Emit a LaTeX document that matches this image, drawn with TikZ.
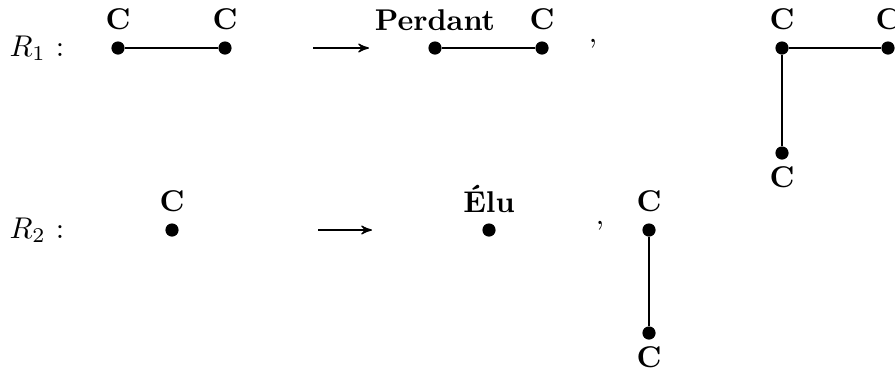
\documentclass[tikz,border=0pt]{standalone}
\usepackage{amsmath}
\usetikzlibrary{arrows}
\usetikzlibrary{calc,positioning}

\begin{document}
\begin{tikzpicture}[x=0.3333pt, y=-0.3333pt, >=stealth',
  sommet/.style={circle, fill, inner sep=0pt, minimum size=4.4pt},
  fleche/.style={->, thin},
  arete/.style={semithick},
  dessous/.style={label={[label distance=-1.5pt]below:\textbf{#1}}}]
  \useasboundingbox (0,0) rectangle (895,374);

% regle R1
\node (r1) at (37,48) {$R_1$ :};
\node[sommet, label={above:\textbf{C}}] (a1) at (118,48) {};
\node[sommet, label={above:\textbf{C}}] (a2) at (225,48) {};
\draw[arete] (a1) -- (a2);

\coordinate (f1a) at (313,48);
\coordinate (f1b) at (369,48);
\draw[fleche] (f1a) -- (f1b);

\node[sommet, label={above:\textbf{Perdant}}] (b1) at (435,48) {};
\node[sommet, label={above:\textbf{C}}] (b2) at (542,48) {};
\draw[arete] (b1) -- (b2);
\node[anchor=base] (v1) at (593,42) {,};

\node[sommet, label={above:\textbf{C}}] (c1) at (782,48) {};
\node[sommet, label={above:\textbf{C}}] (c2) at (888,48) {};
\node[sommet, dessous=C] (c3) at (782,153) {};
\draw[arete] (c2) -- (c1) -- (c3);

% regle R2
\node (r2) at (37,230) {$R_2$ :};
\node[sommet, label={above:\textbf{C}}] (d1) at (172,230) {};

\coordinate (f2a) at (318,230);
\coordinate (f2b) at (372,230);
\draw[fleche] (f2a) -- (f2b);

\node[sommet, label={above:\textbf{Élu}}] (e1) at (489,230) {};
\node[anchor=base] (v2) at (600,224) {,};

\node[sommet, label={above:\textbf{C}}] (g1) at (649,230) {};
\node[sommet, dessous=C] (g2) at (649,333) {};
\draw[arete] (g1) -- (g2);

\end{tikzpicture}
\end{document}
